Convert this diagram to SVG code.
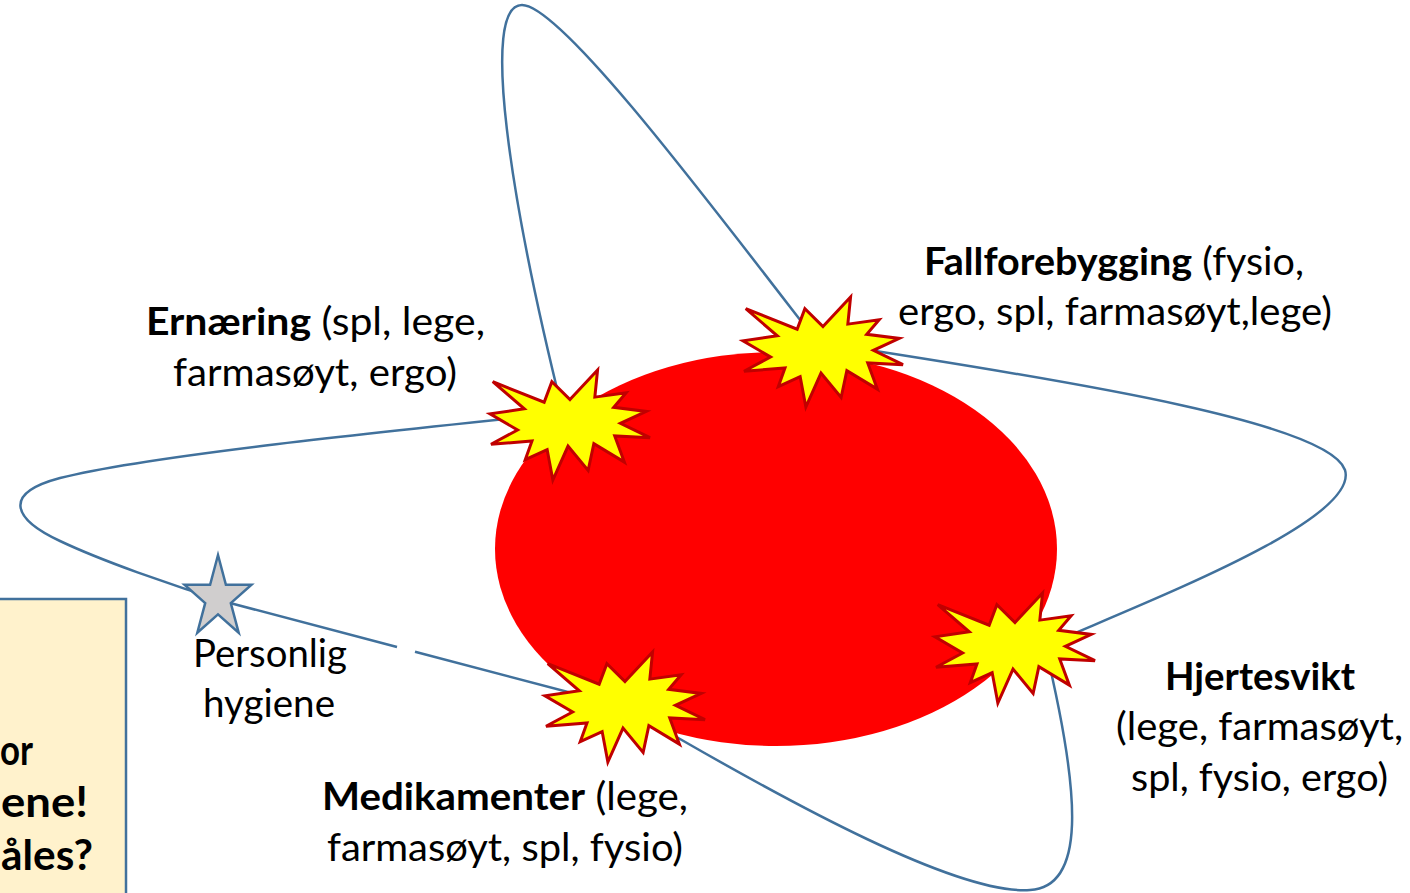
<svg xmlns="http://www.w3.org/2000/svg" width="1410" height="893" viewBox="0 0 1410 893">
<style>
.lbl{font-family:Lato,"Open Sans","Liberation Sans",sans-serif;font-size:38px;fill:#000}
.b{font-weight:bold}
.box{font-size:42px}
.loop{fill:none;stroke:#41719C;stroke-width:2.5}
.burst{fill:#FFFF00;stroke:#C00000;stroke-width:3;stroke-linejoin:miter}
</style>
<defs>
<path id="seal" d="M80,29.54 L107.57,0 L104.85,27.12 L136.15,22.7 L123.72,37.25 L156.27,41.44 L130.42,53.35 L160,67.68 L124.72,65.91 L134.41,92.15 L103.85,73.62 L98.13,100.51 L78.01,76.06 L62.85,110 L57.15,79.58 L35.27,89.72 L41.98,70.98 L1,74.29 L27.57,59.96 L0,43.87 L34.27,38.79 L2.74,11.69 L54.16,32.19 L61.87,11.69 Z"/>
</defs>
<rect width="1410" height="893" fill="#fff"/>
<g id="info-box">
<rect x="-10" y="599" width="136" height="310" fill="#FFF2CC" stroke="#41719C" stroke-width="2.5"/>
<text class="lbl b box" x="33" y="765" text-anchor="end" textLength="33" lengthAdjust="spacingAndGlyphs">or</text>
<text class="lbl b box" x="88" y="817" text-anchor="end" textLength="87" lengthAdjust="spacingAndGlyphs">ene!</text>
<text class="lbl b box" x="93" y="870" text-anchor="end" textLength="92" lengthAdjust="spacingAndGlyphs">åles?</text>
</g>
<g id="patient">
<ellipse cx="776" cy="549" rx="281" ry="197" fill="#FF0000"/>
</g>
<g id="connectors">
<path class="loop" d="M563,413 C400,430 150,455 60,478 C0,494 15,520 60,541 C100,560 170,585 230,603 L397,647 M415,651.7 L625,707 C800,810 960,895 1030,890 C1085,887 1082,800 1045,646 C1150,600 1360,520 1345,470 C1330,425 1100,385 817,342 C700,190 560,5 522,5 C480,5 510,200 563,413"/>
</g>
<g id="ernaering">
<use href="#seal" class="burst" transform="translate(490,370)"/>
<text class="lbl" x="315.5" y="335" text-anchor="middle" textLength="339" lengthAdjust="spacingAndGlyphs"><tspan class="b">Ernæring</tspan> (spl, lege,</text>
<text class="lbl" x="315" y="386" text-anchor="middle" textLength="284" lengthAdjust="spacingAndGlyphs">farmasøyt, ergo)</text>
</g>
<g id="fallforebygging">
<use href="#seal" class="burst" transform="translate(743,297)"/>
<text class="lbl" x="1114" y="275" text-anchor="middle" textLength="380" lengthAdjust="spacingAndGlyphs"><tspan class="b">Fallforebygging</tspan> (fysio,</text>
<text class="lbl" x="1115" y="325" text-anchor="middle" textLength="434" lengthAdjust="spacingAndGlyphs">ergo, spl, farmasøyt,lege)</text>
</g>
<g id="hjertesvikt">
<use href="#seal" class="burst" transform="translate(935,593)"/>
<text class="lbl b" x="1260" y="690" text-anchor="middle" textLength="190" lengthAdjust="spacingAndGlyphs">Hjertesvikt</text>
<text class="lbl" x="1259.5" y="740" text-anchor="middle" textLength="287" lengthAdjust="spacingAndGlyphs">(lege, farmasøyt,</text>
<text class="lbl" x="1259.5" y="791" text-anchor="middle" textLength="257" lengthAdjust="spacingAndGlyphs">spl, fysio, ergo)</text>
</g>
<g id="medikamenter">
<use href="#seal" class="burst" transform="translate(545,652)"/>
<text class="lbl" x="505" y="810" text-anchor="middle" textLength="366" lengthAdjust="spacingAndGlyphs"><tspan class="b">Medikamenter</tspan> (lege,</text>
<text class="lbl" x="505" y="861" text-anchor="middle" textLength="356" lengthAdjust="spacingAndGlyphs">farmasøyt, spl, fysio)</text>
</g>
<g id="personlig-hygiene">
<path d="M218,555 L225.9,584.7 L251.5,584.7 L230.8,603.1 L238.7,632.8 L218,614.4 L197.3,632.8 L205.2,603.1 L184.5,584.7 L210.1,584.7 Z" fill="#D0CECE" stroke="#41719C" stroke-width="2.5"/>
<text class="lbl" x="270" y="667" text-anchor="middle" textLength="154" lengthAdjust="spacingAndGlyphs">Personlig</text>
<text class="lbl" x="269" y="717" text-anchor="middle" textLength="132" lengthAdjust="spacingAndGlyphs">hygiene</text>
</g>
</svg>
